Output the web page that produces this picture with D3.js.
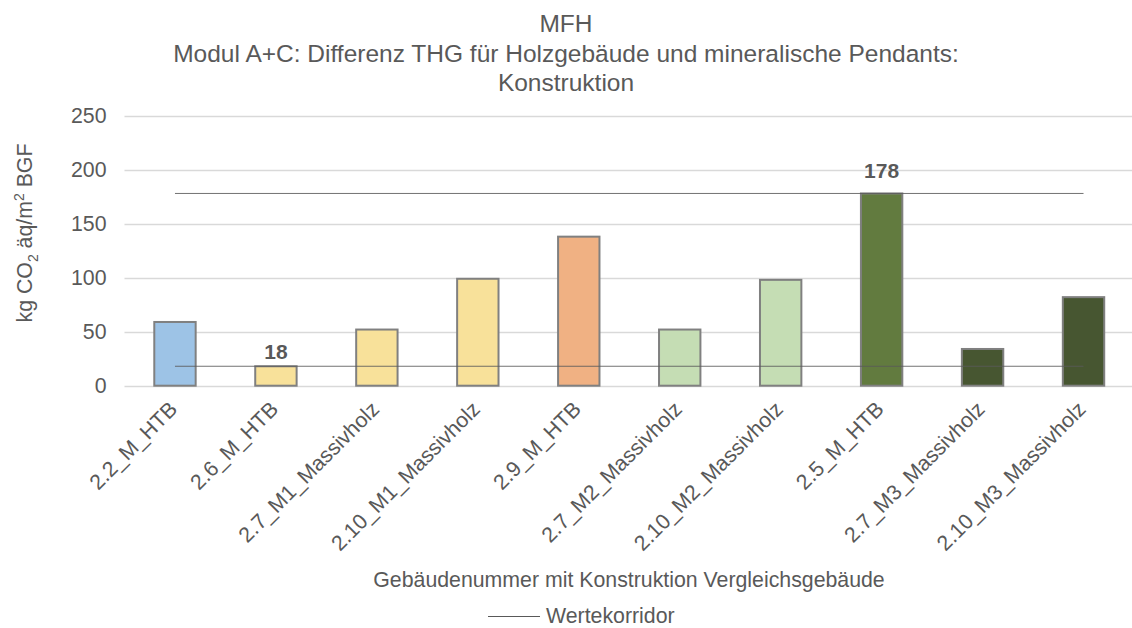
<!DOCTYPE html>
<html>
<head>
<meta charset="utf-8">
<script src="https://cdn.jsdelivr.net/npm/d3@7"></script>
<style>
  body { margin: 0; background: #fff; }
  text { font-family: "Liberation Sans", Arial, sans-serif; fill: #595959; }
</style>
</head>
<body>
<script>
// categories and values
var categories = ["2.2_M_HTB", "2.6_M_HTB", "2.7_M1_Massivholz", "2.10_M1_Massivholz", "2.9_M_HTB",
                  "2.7_M2_Massivholz", "2.10_M2_Massivholz", "2.5_M_HTB", "2.7_M3_Massivholz", "2.10_M3_Massivholz"];
var values = [59, 18, 52, 99, 138, 52, 98, 178, 34, 82];
var barColors = ["#9dc3e6", "#f8e19a", "#f8e19a", "#f8e19a", "#f0b183",
                 "#c5ddb4", "#c5ddb4", "#627b3f", "#475631", "#475631"];
var corridor = [18, 178];   // Wertekorridor min / max
var yTicks = [0, 50, 100, 150, 200, 250];

var width = 1132, height = 628;
var margin = {left: 124.5, right: -2};

var svg = d3.select("body").append("svg")
    .attr("width", width)
    .attr("height", height);

var x = d3.scaleBand()
    .domain(categories)
    .range([margin.left, width - margin.right])
    .paddingInner(0.59)
    .paddingOuter(0.295);

var y = d3.scaleLinear()
    .domain([0, 250])
    .range([385.7, 115.7]);

// gridlines
svg.append("g")
    .selectAll("line")
    .data(yTicks)
    .enter()
    .append("line")
    .attr("x1", margin.left)
    .attr("x2", width - margin.right)
    .attr("y1", function(d){ return Math.round(y(d)) + 0.5; })
    .attr("y2", function(d){ return Math.round(y(d)) + 0.5; })
    .attr("stroke", "#d9d9d9")
    .attr("stroke-width", 1.3);

// y axis labels
var yAxis = d3.axisLeft(y).tickValues(yTicks).tickSize(0).tickPadding(18);
var yg = svg.append("g")
    .attr("transform", "translate(" + margin.left + ",0)")
    .call(yAxis);
yg.select(".domain").remove();
yg.selectAll("text")
    .style("font-size", "21.3px")
    .attr("fill", "#595959")
    .style("font-family", "'Liberation Sans', Arial, sans-serif");

// bars
svg.selectAll(".bar")
    .data(values)
    .enter()
    .append("rect")
    .attr("class", "bar")
    .attr("x", function(d, i){ return x(categories[i]); })
    .attr("y", function(d){ return y(d); })
    .attr("width", x.bandwidth())
    .attr("height", function(d){ return y(0) - y(d); })
    .attr("fill", function(d, i){ return barColors[i]; })
    .attr("stroke", "#808080")
    .attr("stroke-width", 2);

// corridor lines, from first to last category center
var x0 = x(categories[0]) + x.bandwidth() / 2,
    x1 = x(categories[categories.length - 1]) + x.bandwidth() / 2;
svg.selectAll(".corridor")
    .data(corridor)
    .enter()
    .append("line")
    .attr("class", "corridor")
    .attr("x1", x0)
    .attr("x2", x1)
    .attr("y1", function(d){ return y(d); })
    .attr("y2", function(d){ return y(d); })
    .attr("stroke", "#595959")
    .attr("stroke-opacity", 0.85)
    .attr("stroke-width", 1);

// data labels on the min / max bars
var labelGap = [7, 15];
corridor.forEach(function(v, k){
    var i = values.indexOf(v);
    svg.append("text")
        .attr("x", x(categories[i]) + x.bandwidth() / 2)
        .attr("y", y(v) - labelGap[k])
        .attr("text-anchor", "middle")
        .style("font-size", "21px")
        .style("font-weight", "bold")
        .text(v);
});

// category labels, rotated
svg.selectAll(".cat")
    .data(categories)
    .enter()
    .append("text")
    .attr("class", "cat")
    .attr("text-anchor", "end")
    .attr("transform", function(d){
        var cx = x(d) + x.bandwidth() / 2 - 7;
        return "translate(" + cx + "," + 400 + ") rotate(-45)";
    })
    .attr("dy", "0.7em")
    .style("font-size", "21.3px")
    .text(function(d){ return d; });

// titles
var titleLines = ["MFH", "Modul A+C: Differenz THG für Holzgebäude und mineralische Pendants:", "Konstruktion"];
svg.selectAll(".title")
    .data(titleLines)
    .enter()
    .append("text")
    .attr("class", "title")
    .attr("x", 566)
    .attr("y", function(d, i){ return 32 + i * 29.5; })
    .attr("text-anchor", "middle")
    .style("font-size", "24.5px")
    .text(function(d){ return d; });

// x axis title
svg.append("text")
    .attr("x", 629)
    .attr("y", 587)
    .attr("text-anchor", "middle")
    .style("font-size", "21.3px")
    .text("Gebäudenummer mit Konstruktion Vergleichsgebäude");

// y axis title with subscript / superscript
var yt = svg.append("text")
    .attr("transform", "translate(32,233) rotate(-90)")
    .attr("text-anchor", "middle")
    .style("font-size", "21.3px");
yt.append("tspan").text("kg CO");
yt.append("tspan").attr("dy", 6).style("font-size", "14px").text("2");
yt.append("tspan").attr("dy", -6).text(" äq/m");
yt.append("tspan").attr("dy", -8).style("font-size", "14px").text("2");
yt.append("tspan").attr("dy", 8).text(" BGF");

// legend
svg.append("line")
    .attr("x1", 488).attr("x2", 540)
    .attr("y1", 616.5).attr("y2", 616.5)
    .attr("stroke", "#595959")
    .attr("stroke-width", 1);
svg.append("text")
    .attr("x", 546)
    .attr("y", 623)
    .style("font-size", "21.3px")
    .text("Wertekorridor");
</script>
</body>
</html>
